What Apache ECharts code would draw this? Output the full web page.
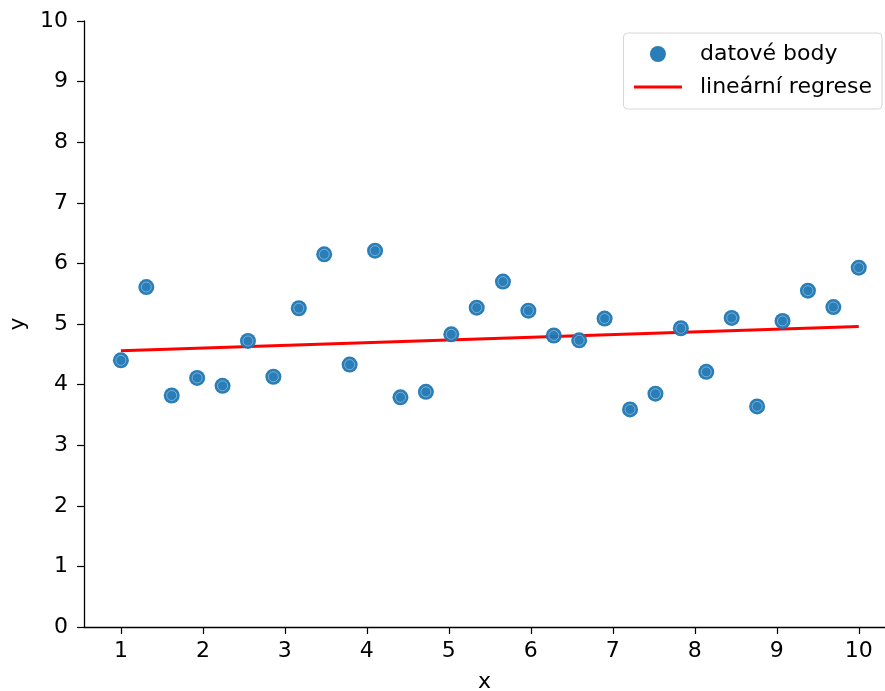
<!DOCTYPE html>
<html>
<head>
<meta charset="utf-8">
<script src="https://cdn.jsdelivr.net/npm/echarts@6/dist/echarts.min.js"></script>
<style>
    html, body { margin: 0; padding: 0; background: #fff; }
    #chart { width: 885px; height: 691px; }
</style>
</head>
<body>
<div id="chart"></div>
<script>

    const xValues = [1.00, 1.31, 1.62, 1.93, 2.24, 2.55, 2.86, 3.17, 3.48, 3.79,
        4.10, 4.41, 4.72, 5.03, 5.34, 5.66, 5.97, 6.28, 6.59, 6.90,
        7.21, 7.52, 7.83, 8.14, 8.45, 8.76, 9.07, 9.38, 9.69, 10.00];
    const yValues = [4.40, 5.61, 3.82, 4.11, 3.98, 4.72, 4.13, 5.26, 6.15, 4.33,
        6.21, 3.79, 3.88, 4.83, 5.27, 5.70, 5.22, 4.81, 4.73, 5.09,
        3.59, 3.85, 4.93, 4.21, 5.10, 3.64, 5.05, 5.55, 5.28, 5.93];
    const regressionX = [1, 10];
    const regressionY = [4.56, 4.96];
    const xTicks = [1, 2, 3, 4, 5, 6, 7, 8, 9, 10];

    const FONT = 'DejaVu Sans';
    const FONT_SIZE = 22;
    const points = xValues.map((x, i) => [x, yValues[i]]);
    const linePoints = regressionX.map((x, i) => [x, regressionY[i]]);

    const axisCommon = {
        axisLine: { lineStyle: { color: '#000', width: 1.3 } },
        axisTick: { length: 7, lineStyle: { color: '#000', width: 1.2 } },
        axisLabel: { color: '#000', fontSize: FONT_SIZE, fontFamily: FONT },
        splitLine: { show: false },
        nameTextStyle: { color: '#000', fontSize: FONT_SIZE, fontFamily: FONT }
    };

    echarts.init(document.getElementById('chart')).setOption({
        animation: false,
        grid: { left: 84, top: 21, right: 0, bottom: 64, outerBoundsMode: 'none' },
        legend: {
            orient: 'vertical',
            right: 3,
            top: 33,
            padding: [10, 10, 11, 9],
            itemGap: 11,
            itemWidth: 48,
            itemHeight: 16,
            borderColor: '#d6d6d6',
            borderWidth: 1,
            borderRadius: 4,
            textStyle: { color: '#000', fontSize: FONT_SIZE, fontFamily: FONT, padding: [0, 0, 0, 13] },
            data: [
                { name: 'datové body', icon: 'circle' },
                {
                    name: 'lineární regrese',
                    itemStyle: { color: 'rgba(0,0,0,0)', borderWidth: 0 },
                    lineStyle: { color: '#ff0000', width: 3 }
                }
            ]
        },
        xAxis: Object.assign({}, axisCommon, {
            type: 'value',
            min: 0.55,
            max: 10.32,
            name: 'x',
            nameLocation: 'middle',
            nameGap: 44,
            axisTick: Object.assign({}, axisCommon.axisTick, { customValues: xTicks }),
            axisLabel: Object.assign({}, axisCommon.axisLabel, { customValues: xTicks, margin: 13 })
        }),
        yAxis: Object.assign({}, axisCommon, {
            type: 'value',
            min: 0,
            max: 10,
            interval: 1,
            name: 'y',
            nameLocation: 'middle',
            nameGap: 52,
            axisLabel: Object.assign({}, axisCommon.axisLabel, { margin: 16 })
        }),
        series: [{
            name: 'datové body',
            type: 'scatter',
            symbol: 'circle',
            symbolSize: 16,
            itemStyle: { color: '#1f77b4', opacity: 0.95 },
            data: points,
            z: 3
        }, {
            name: 'ring',
            type: 'scatter',
            symbol: 'circle',
            symbolSize: 10,
            silent: true,
            itemStyle: { color: 'transparent', borderColor: 'rgba(255,255,255,0.45)', borderWidth: 1 },
            data: points,
            z: 4
        }, {
            name: 'lineární regrese',
            type: 'line',
            symbol: 'none',
            color: '#ff0000',
            lineStyle: { color: '#ff0000', width: 3 },
            data: linePoints,
            z: 2
        }]
    });

</script>
</body>
</html>
